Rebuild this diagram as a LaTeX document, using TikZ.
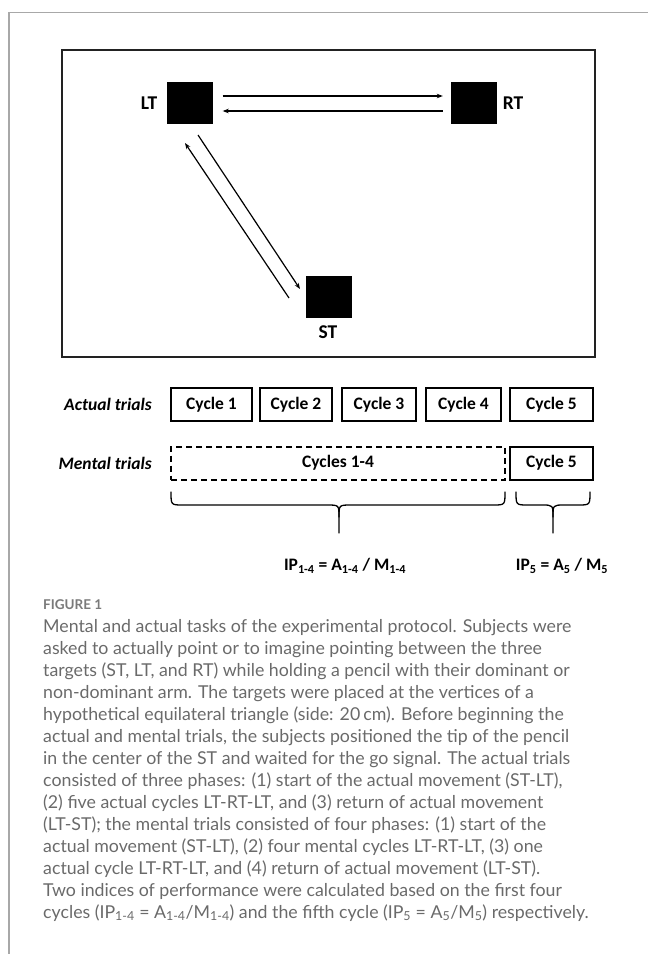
\documentclass[tikz,border=0pt]{standalone}
\usepackage{fontspec}
\setmainfont{Carlito}
\newfontfamily\capfont{Lato}
\usetikzlibrary{arrows.meta,calc}
\definecolor{framegray}{HTML}{A8A8A8}
\definecolor{boxline}{HTML}{222222}
\definecolor{captext}{HTML}{6A6A6A}
\definecolor{figgray}{HTML}{7A7A7A}
\begin{document}
\begin{tikzpicture}[x=1pt,y=-1pt,
  target/.style={fill=black, minimum width=46pt, minimum height=42pt, inner sep=0},
  lbl/.style={font=\fontsize{19.5}{21}\selectfont\bfseries, inner sep=0},
  cyc/.style={draw=black, line width=2pt, minimum height=33pt, inner sep=0, font=\fontsize{17.5}{19}\selectfont\bfseries},
  dashbox/.style={cyc, dash pattern=on 6pt off 4pt},
  rowlbl/.style={anchor=east, inner sep=0, font=\fontsize{17.5}{19}\selectfont\bfseries\itshape},
  arr/.style={line width=1.2pt, -{Stealth[length=6pt,width=4.5pt]}},
  bracestyle/.style={line width=1.3pt, line cap=round, line join=round},
  ipl/.style={inner sep=0, font=\fontsize{17.5}{19}\selectfont\bfseries},
  capline/.style={anchor=base west, inner sep=0, text=captext, font=\capfont\fontsize{17.75}{20}\selectfont}
]
\useasboundingbox (0,0) rectangle (648,954);
% page frame
\draw[framegray, line width=1.2pt] (9,954) -- (9,12.5) -- (648,12.5);
% inner box
\draw[boxline, line width=2pt] (62,50) rectangle (595,357);
% targets
\node[target] (LT) at (189.5,103) {};
\node[target] (RT) at (474,103) {};
\node[target] (ST) at (329,297) {};
\node[lbl] (LTl) at (149,103) {LT};
\node[lbl] (RTl) at (513,103) {RT};
\node[lbl] (STl) at (328,332) {ST};
% arrows
\draw[arr] ($(LT.east)+(10,-7)$) -- ($(RT.west)+(-8,-7)$);
\draw[arr] ($(RT.west)+(-8,8)$) -- ($(LT.east)+(10,8)$);
\draw[arr] ($(ST.center)+(-40,1)$) -- ($(LT.center)+(-4.5,40)$);
\draw[arr] ($(LT.center)+(8.5,32)$) -- ($(ST.center)+(-29,-8)$);
% rows
\node[rowlbl] (act) at (152,404.5) {Actual trials};
\node[rowlbl] (men) at (152,463) {Mental trials};
\node[cyc, minimum width=81pt] (c1) at (211.5,404.5) {Cycle 1};
\node[cyc, minimum width=72pt] (c2) at (296,404.5) {Cycle 2};
\node[cyc, minimum width=74pt] (c3) at (379,404.5) {Cycle 3};
\node[cyc, minimum width=75pt] (c4) at (463.5,404.5) {Cycle 4};
\node[cyc, minimum width=83pt] (c5) at (551.5,404.5) {Cycle 5};
\node[dashbox, minimum width=334pt] (m14) at (338,463) {Cycles 1-4};
\node[cyc, minimum width=83pt] (m5) at (551.5,463) {Cycle 5};
% braces
\draw[bracestyle] (171,492) .. controls (171,505) and (171,505) .. (183,505) -- (327,505)
   .. controls (339,505) and (339,505) .. (339,517) -- (339,533);
\draw[bracestyle] (339,517) .. controls (339,505) and (339,505) .. (351,505) -- (493,505)
   .. controls (505,505) and (505,505) .. (505,492);
\draw[bracestyle] (516,492) .. controls (516,505) and (516,505) .. (528,505) -- (542,505)
   .. controls (553,505) and (553,505) .. (553,517) -- (553,533);
\draw[bracestyle] (553,517) .. controls (553,505) and (553,505) .. (564,505) -- (578,505)
   .. controls (590,505) and (590,505) .. (590,492);
\node[ipl] (ip14) at (345,566) {IP\textsubscript{1-4} = A\textsubscript{1-4} / M\textsubscript{1-4}};
\node[ipl] (ip5) at (562,566) {IP\textsubscript{5} = A\textsubscript{5} / M\textsubscript{5}};
% caption
\node[anchor=base west, inner sep=0, text=figgray, font=\capfont\bfseries\fontsize{13.5}{15}\selectfont] (fig) at (43,609) {FIGURE 1};
\node[capline] (l1) at (43,632) {Mental and actual tasks of the experimental protocol. Subjects were};
\node[capline] (l2) at (43,654) {asked to actually point or to imagine pointing between the three};
\node[capline] (l3) at (43,676) {targets (ST, LT, and RT) while holding a pencil with their dominant or};
\node[capline] (l4) at (43,698) {non-dominant arm. The targets were placed at the vertices of a};
\node[capline] (l5) at (43,720) {hypothetical equilateral triangle (side: 20\,cm). Before beginning the};
\node[capline] (l6) at (43,742) {actual and mental trials, the subjects positioned the tip of the pencil};
\node[capline] (l7) at (43,764) {in the center of the ST and waited for the go signal. The actual trials};
\node[capline] (l8) at (43,786) {consisted of three phases: (1) start of the actual movement (ST-LT),};
\node[capline] (l9) at (43,808) {(2) five actual cycles LT-RT-LT, and (3) return of actual movement};
\node[capline] (l10) at (43,830) {(LT-ST); the mental trials consisted of four phases: (1) start of the};
\node[capline] (l11) at (43,852) {actual movement (ST-LT), (2) four mental cycles LT-RT-LT, (3) one};
\node[capline] (l12) at (43,874) {actual cycle LT-RT-LT, and (4) return of actual movement (LT-ST).};
\node[capline] (l13) at (43,896) {Two indices of performance were calculated based on the first four};
\node[capline] (l14) at (43,918) {cycles (IP\textsubscript{1-4} = A\textsubscript{1-4}/M\textsubscript{1-4}) and the fifth cycle (IP\textsubscript{5} = A\textsubscript{5}/M\textsubscript{5}) respectively.};
\end{tikzpicture}
\end{document}
